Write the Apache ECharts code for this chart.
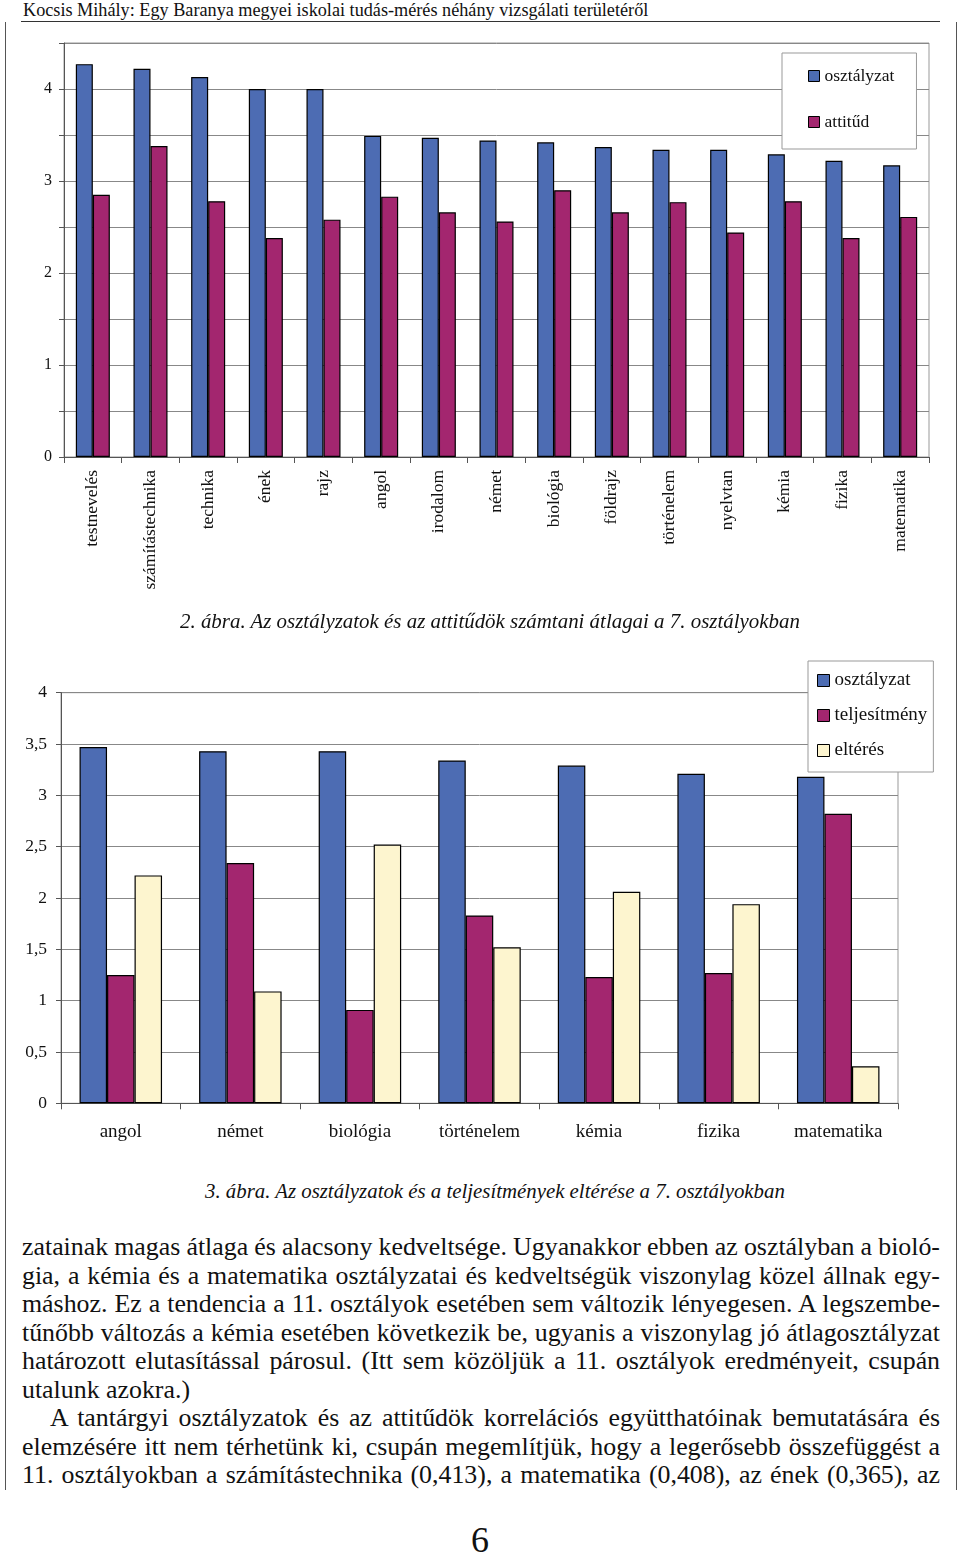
<!DOCTYPE html>
<html><head><meta charset="utf-8">
<script src="https://cdn.jsdelivr.net/npm/echarts@6/dist/echarts.min.js"></script>
<style>
html,body{margin:0;padding:0;background:#fff;}
body{width:960px;height:1557px;position:relative;overflow:hidden;font-family:'Liberation Serif','Times New Roman',serif;color:#111;}
.abs{position:absolute;white-space:nowrap;font-family:'Liberation Serif','Times New Roman',serif;}
#c1{position:absolute;left:0;top:0;width:960px;height:640px;}
#c2{position:absolute;left:0;top:640px;width:960px;height:520px;}
.vline{position:absolute;width:1px;background:#555;}
.cap{font-style:italic;}
.pl{position:absolute;white-space:nowrap;line-height:28px;font-family:'Liberation Serif','Times New Roman',serif;}
</style></head>
<body>
<div class="abs" id="hdr" data-w="626" style="left:23px;top:0px;font-size:16px;line-height:20px;">Kocsis Mihály: Egy Baranya megyei iskolai tudás-mérés néhány vizsgálati területéről</div>
<div style="position:absolute;left:21px;top:21px;width:919px;height:1px;background:#333"></div>
<div class="vline" style="left:5px;top:22px;height:1468px"></div>
<div class="vline" style="left:956px;top:22px;height:1468px"></div>
<div id="c1"></div>
<div id="c2"></div>
<div class="abs cap" id="cap1" data-w="620" style="left:180px;top:609px;font-size:19px;line-height:24px;">2. ábra. Az osztályzatok és az attitűdök számtani átlagai a 7. osztályokban</div>
<div class="abs cap" id="cap2" data-w="580" style="left:205px;top:1179px;font-size:19px;line-height:24px;">3. ábra. Az osztályzatok és a teljesítmények eltérése a 7. osztályokban</div>
<div id="para"></div>
<div class="abs" style="left:471px;top:1520px;font-size:36px;line-height:40px;">6</div>
<script>
// ---- Chart 1 data ----
const subjects1 = ['testnevelés','számítástechnika','technika','ének','rajz','angol','irodalom','német','biológia','földrajz','történelem','nyelvtan','kémia','fizika','matematika'];
const grades1 = [4.27,4.22,4.13,4.00,4.00,3.49,3.47,3.44,3.42,3.37,3.34,3.34,3.29,3.22,3.17];
const attitude1 = [2.85,3.38,2.78,2.38,2.58,2.83,2.66,2.56,2.90,2.66,2.77,2.44,2.78,2.38,2.61];
const yLabels1 = ['0','1','2','3','4'];
const seriesNames1 = ['osztályzat','attitűd'];
// ---- Chart 2 data ----
const subjects2 = ['angol','német','biológia','történelem','kémia','fizika','matematika'];
const grades2 = [3.47,3.43,3.43,3.34,3.29,3.21,3.18];
const performance2 = [1.25,2.34,0.91,1.83,1.23,1.27,2.82];
const difference2 = [2.22,1.09,2.52,1.52,2.06,1.94,0.36];
const yLabels2 = ['0','0,5','1','1,5','2','2,5','3','3,5','4'];
const seriesNames2 = ['osztályzat','teljesítmény','eltérés'];
// ---- Text ----
const paraLines = [
 'zatainak magas átlaga és alacsony kedveltsége. Ugyanakkor ebben az osztályban a bioló-',
 'gia, a kémia és a matematika osztályzatai és kedveltségük viszonylag közel állnak egy-',
 'máshoz. Ez a tendencia a 11. osztályok esetében sem változik lényegesen. A legszembe-',
 'tűnőbb változás a kémia esetében következik be, ugyanis a viszonylag jó átlagosztályzat',
 'határozott elutasítással párosul. (Itt sem közöljük a 11. osztályok eredményeit, csupán',
 'utalunk azokra.)',
 'A tantárgyi osztályzatok és az attitűdök korrelációs együtthatóinak bemutatására és',
 'elemzésére itt nem térhetünk ki, csupán megemlítjük, hogy a legerősebb összefüggést a',
 '11. osztályokban a számítástechnika (0,413), a matematika (0,408), az ének (0,365), az'
];

const BLUE = '#4d6cb3', PURPLE = '#a3266f', CREAM = '#fdf5cf';
const FONT = "'Liberation Serif','Times New Roman',serif";

const c1 = echarts.init(document.getElementById('c1'));
c1.setOption({
  animation:false,
  textStyle:{fontFamily:FONT,color:'#111'},
  grid:{left:64,top:43,width:865,height:414,show:true,borderColor:'#999',borderWidth:1,backgroundColor:'transparent'},
  legend:{
    orient:'vertical', left:782, top:53,
    data:seriesNames1, icon:'rect', itemWidth:11, itemHeight:11, itemGap:28,
    padding:[14,22,18,26], borderColor:'#999', borderWidth:1, backgroundColor:'#fff',
    textStyle:{fontFamily:FONT,fontSize:17.5,color:'#111'},
    itemStyle:{borderColor:'#000',borderWidth:1}, selectedMode:false
  },
  xAxis:{type:'category',data:subjects1,
    axisLine:{lineStyle:{color:'#555'}},
    axisTick:{show:true,length:6,lineStyle:{color:'#555'}},
    axisLabel:{interval:0,rotate:90,margin:13,fontSize:17.5,color:'#111',fontFamily:FONT}},
  yAxis:{type:'value',min:0,max:4.5,interval:0.5,
    axisLine:{show:true,lineStyle:{color:'#555'}},
    axisTick:{show:true,length:5,lineStyle:{color:'#555'}},
    splitLine:{lineStyle:{color:'#888',width:1}},
    axisLabel:{margin:12,fontSize:16,color:'#111',fontFamily:FONT,
      formatter:v=>{const i=yLabels1.indexOf(String(v));return i>=0?yLabels1[i]:'';}}},
  series:[
    {name:seriesNames1[0],type:'bar',data:grades1,barGap:'0%',barCategoryGap:'41%',
     itemStyle:{color:BLUE,borderColor:'#000',borderWidth:1.2}},
    {name:seriesNames1[1],type:'bar',data:attitude1,
     itemStyle:{color:PURPLE,borderColor:'#000',borderWidth:1.2}}
  ]
});

const c2 = echarts.init(document.getElementById('c2'));
c2.setOption({
  animation:false,
  textStyle:{fontFamily:FONT,color:'#111'},
  grid:{left:61,top:52.7,width:837,height:410.6,show:true,borderColor:'#999',borderWidth:1,backgroundColor:'transparent'},
  legend:{
    orient:'vertical', left:808, top:21,
    data:seriesNames2, icon:'rect', itemWidth:12, itemHeight:12, itemGap:16,
    padding:[10,6,12,9], borderColor:'#999', borderWidth:1, backgroundColor:'#fff',
    textStyle:{fontFamily:FONT,fontSize:19,color:'#111'},
    itemStyle:{borderColor:'#000',borderWidth:1}, selectedMode:false
  },
  xAxis:{type:'category',data:subjects2,
    axisLine:{lineStyle:{color:'#555'}},
    axisTick:{show:true,length:6,lineStyle:{color:'#555'}},
    axisLabel:{interval:0,margin:19,fontSize:19,color:'#111',fontFamily:FONT}},
  yAxis:{type:'value',min:0,max:4,interval:0.5,
    axisLine:{show:true,lineStyle:{color:'#555'}},
    axisTick:{show:true,length:5,lineStyle:{color:'#555'}},
    splitLine:{lineStyle:{color:'#888',width:1}},
    axisLabel:{margin:14,fontSize:17.5,color:'#111',fontFamily:FONT,
      formatter:v=>{const i=Math.round(v/0.5);return yLabels2[i]!==undefined?yLabels2[i]:'';}}},
  series:[
    {name:seriesNames2[0],type:'bar',data:grades2,barGap:'0%',barCategoryGap:'31%',
     itemStyle:{color:BLUE,borderColor:'#000',borderWidth:1.2}},
    {name:seriesNames2[1],type:'bar',data:performance2,
     itemStyle:{color:PURPLE,borderColor:'#000',borderWidth:1.2}},
    {name:seriesNames2[2],type:'bar',data:difference2,
     itemStyle:{color:CREAM,borderColor:'#000',borderWidth:1.2}}
  ]
});

// ---- text fitting ----
function fitFont(el){
  const target = +el.dataset.w;
  const fs = parseFloat(el.style.fontSize);
  const w = el.getBoundingClientRect().width;
  el.style.fontSize = (fs*target/w).toFixed(2)+'px';
}
['hdr','cap1','cap2'].forEach(id=>fitFont(document.getElementById(id)));

const para = document.getElementById('para');
const lineY = [1247,1276,1304,1333,1361,1390,1418,1447,1475];
const probe = document.createElement('div');
probe.className='pl'; probe.style.fontSize='24px'; probe.textContent=paraLines[5];
para.appendChild(probe);
let F = 24*168/probe.getBoundingClientRect().width;
para.removeChild(probe);
paraLines.forEach((t,i)=>{
  const d=document.createElement('div');
  d.className='pl';
  d.textContent=t;
  const left = (i===6)?50:22;
  d.style.left=left+'px';
  d.style.top=(lineY[i]-14)+'px';
  d.style.fontSize=F.toFixed(2)+'px';
  para.appendChild(d);
  if(i!==5){
    const target = 940-left;
    const w = d.getBoundingClientRect().width;
    const n = (t.match(/ /g)||[]).length;
    let ws = (target-w)/n;
    if(ws < -1.5){
      d.style.transformOrigin='0 0';
      d.style.transform='scaleX('+(target/w)+')';
    } else {
      d.style.wordSpacing=ws.toFixed(2)+'px';
    }
  }
});
</script>
</body></html>
